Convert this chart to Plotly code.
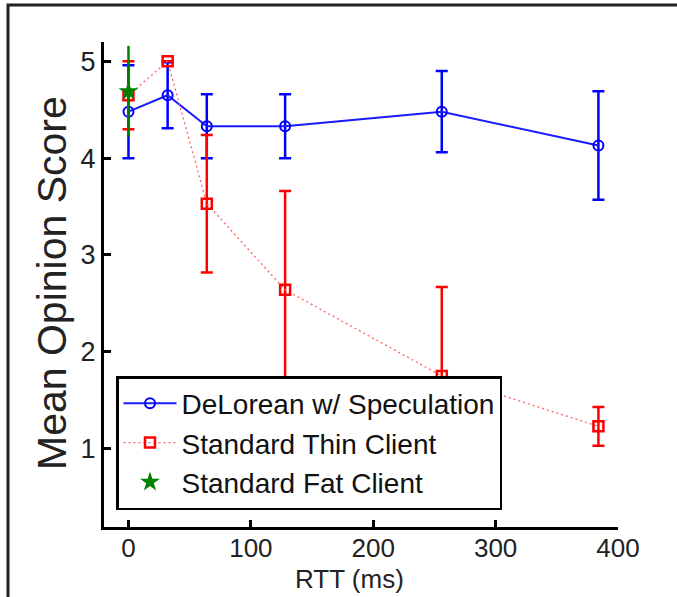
import plotly.graph_objects as go

rtt = [0, 32, 64, 128, 256, 384]
delorean_mos = [4.48, 4.65, 4.33, 4.33, 4.48, 4.13]
delorean_err = [0.48, 0.34, 0.33, 0.33, 0.42, 0.56]
thin_mos = [4.65, 5.0, 3.53, 2.64, 1.75, 1.23]
thin_err = [0.35, 0.0, 0.71, 1.02, 0.92, 0.20]
fat_rtt = [0]
fat_mos = [4.69]
fat_err = [0.47]

x_ticks = [0, 100, 200, 300, 400]
y_ticks = [1, 2, 3, 4, 5]

FONT = "Liberation Sans, Arial, sans-serif"

fig = go.Figure()
fig.add_trace(go.Scatter(
    x=rtt, y=delorean_mos, mode="lines+markers", name="DeLorean w/ Speculation",
    line=dict(color="#1a1aff", width=2),
    marker=dict(symbol="circle-open", size=10, color="blue", line=dict(width=2)),
    error_y=dict(type="data", array=delorean_err, visible=True, color="blue",
                 thickness=2.5, width=6),
))
fig.add_trace(go.Scatter(
    x=rtt, y=thin_mos, mode="lines+markers", name="Standard Thin Client",
    line=dict(color="#ff6060", width=1.3, dash="2px,3px"),
    marker=dict(symbol="square-open", size=10, color="red", line=dict(width=2.5)),
    error_y=dict(type="data", array=thin_err, visible=True, color="red",
                 thickness=2.5, width=6),
))
fig.add_trace(go.Scatter(
    x=fat_rtt, y=fat_mos, mode="markers", name="Standard Fat Client",
    marker=dict(symbol="star", size=15, color="#008000", line=dict(width=0)),
    error_y=dict(type="data", array=fat_err, visible=True, color="#008000",
                 thickness=2.5, width=0),
))

L, R, T, B = 104, 59, 42, 70
W, H = 677, 597
pw, ph = W - L - R, H - T - B

def px(x):
    return (x - L) / pw

def py(y):
    return (H - B - y) / ph

fig.update_layout(
    width=W, height=H,
    margin=dict(l=L, r=R, t=T, b=B, pad=0),
    paper_bgcolor="white", plot_bgcolor="white",
    font=dict(family=FONT, color="#111", size=26),
    showlegend=True,
    legend=dict(
        x=px(116), y=py(376), xanchor="left", yanchor="top",
        bgcolor="white", bordercolor="black", borderwidth=2.5,
        font=dict(family=FONT, size=28, color="#111"),
        tracegroupgap=0, itemwidth=53,
    ),
    xaxis=dict(
        range=[-20, 400], tickvals=x_ticks, showgrid=False, zeroline=False,
        showline=True, linecolor="black", linewidth=3,
        ticks="inside", ticklen=7, tickwidth=2.5, tickcolor="black",
        tickfont=dict(family=FONT, size=26, color="#222"),
        ticklabelstandoff=-4,
    ),
    yaxis=dict(
        range=[0.19, 5.2], tickvals=y_ticks, showgrid=False, zeroline=False,
        showline=True, linecolor="black", linewidth=3,
        ticks="inside", ticklen=7, tickwidth=2.5, tickcolor="black",
        tickfont=dict(family=FONT, size=27, color="#222"),
    ),
    annotations=[
        dict(text="RTT (ms)", xref="paper", yref="paper", x=px(349), y=py(579),
             xanchor="center", yanchor="middle", showarrow=False,
             font=dict(family=FONT, size=26, color="#222")),
        dict(text="Mean Opinion Score", xref="paper", yref="paper", x=px(52), y=py(283),
             xanchor="center", yanchor="middle", showarrow=False, textangle=-90,
             font=dict(family=FONT, size=41, color="#222")),
    ],
    shapes=[
        dict(type="rect", xref="paper", yref="paper",
             x0=px(8), x1=px(720), y0=py(640), y1=py(5),
             line=dict(color="#222", width=3), fillcolor="rgba(0,0,0,0)", layer="above"),
    ],
)

fig.write_html("out.html")
